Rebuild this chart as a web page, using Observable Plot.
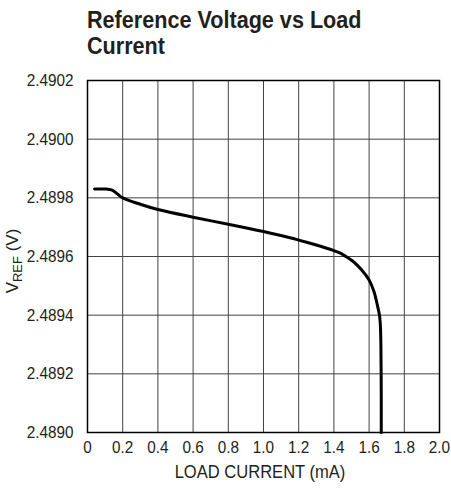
<!DOCTYPE html>
<html>
<head>
<meta charset="utf-8">
<script src="https://cdn.jsdelivr.net/npm/d3@7"></script>
<script src="https://cdn.jsdelivr.net/npm/@observablehq/plot@0.6"></script>
<style>
  body { margin: 0; background: #fff; width: 451px; height: 491px; overflow: hidden; }
  #title { font-family: "Liberation Sans", sans-serif; font-weight: bold; font-size: 24px; line-height: 26px; color: #231f20; padding: 7px 0 0 87px; height: 55px; box-sizing: content-box; }
  #title span { display: inline-block; transform: scaleX(0.9); transform-origin: left top; white-space: nowrap; }
  svg { display: block; }
</style>
</head>
<body>
<div id="title"><span>Reference Voltage vs Load<br>Current</span></div>
<div id="chart"></div>
<script>
const loadCurrent = [0.04, 0.10, 0.14, 0.17, 0.20, 0.30, 0.40, 0.60, 0.80, 1.00, 1.15, 1.20, 1.30, 1.35, 1.40, 1.43, 1.455, 1.51, 1.558, 1.60, 1.628, 1.647, 1.659, 1.664, 1.667, 1.669, 1.669];
const vref = [2.48983, 2.48983, 2.489826, 2.489813, 2.48980, 2.489778, 2.48976, 2.489734, 2.48971, 2.489685, 2.489664, 2.489656, 2.489639, 2.48963, 2.48962, 2.489613, 2.489605, 2.489583, 2.489554, 2.48952, 2.48948, 2.489434, 2.48940, 2.489366, 2.48930, 2.48912, 2.48900];
const xTicks = [0, 0.2, 0.4, 0.6, 0.8, 1.0, 1.2, 1.4, 1.6, 1.8, 2.0];
const xTickLabels = ["0", "0.2", "0.4", "0.6", "0.8", "1.0", "1.2", "1.4", "1.6", "1.8", "2.0"];
const yTicks = [2.4890, 2.4892, 2.4894, 2.4896, 2.4898, 2.4900, 2.4902];
const yTickLabels = ["2.4890", "2.4892", "2.4894", "2.4896", "2.4898", "2.4900", "2.4902"];

const data = loadCurrent.map((x, i) => ({x, y: vref[i]}));
const font = '"Liberation Sans", sans-serif';

const chart = Plot.plot({
  width: 451,
  height: 429,
  marginTop: 18,
  marginBottom: 59,
  marginLeft: 87,
  marginRight: 12,
  style: { fontFamily: font, fontSize: "17px", color: "#231f20", background: "#fff" },
  x: { domain: [0, 2], ticks: xTicks, tickFormat: (d, i) => xTickLabels[i], label: null },
  y: { domain: [2.4890, 2.4902], ticks: yTicks, tickFormat: (d, i) => yTickLabels[i], label: null },
  marks: [
    Plot.gridX(xTicks, { stroke: "#444", strokeOpacity: 1, strokeWidth: 1 }),
    Plot.gridY(yTicks, { stroke: "#444", strokeOpacity: 1, strokeWidth: 1 }),
    Plot.axisX(xTicks, { tickSize: 0, tickPadding: 8, tickFormat: (d, i) => xTickLabels[i], label: null }),
    Plot.axisY(yTicks, { tickSize: 0, tickPadding: 14, tickFormat: (d, i) => yTickLabels[i], label: null }),
    Plot.line(data, { x: "x", y: "y", stroke: "#000", strokeWidth: 3, curve: "catmull-rom" }),
    Plot.frame({ stroke: "#000", strokeWidth: 1.5 })
  ]
});
document.getElementById("chart").appendChild(chart);

// condense text horizontally around its anchor
function condense(el, s) {
  const x = +el.getAttribute("x") || 0;
  const y = +el.getAttribute("y") || 0;
  const t = el.getAttribute("transform") || "";
  el.setAttribute("transform", `${t} translate(${x},${y}) scale(${s},1) translate(${-x},${-y})`);
}
d3.select(chart).selectAll("text").each(function () { condense(this, 0.9); });

const svg = d3.select(chart);
const xl = svg.append("text")
  .attr("x", 260).attr("y", 416)
  .attr("text-anchor", "middle")
  .attr("font-family", font).attr("font-size", 18).attr("fill", "#231f20")
  .text("LOAD CURRENT (mA)");
condense(xl.node(), 0.92);
const yl = svg.append("text")
  .attr("transform", "translate(18,199) rotate(-90)")
  .attr("text-anchor", "middle")
  .attr("font-family", font).attr("font-size", 17).attr("fill", "#231f20");
yl.append("tspan").text("V");
yl.append("tspan").attr("font-size", 13).attr("dy", 4).text("REF");
yl.append("tspan").attr("dy", -4).text(" (V)");
</script>
</body>
</html>
